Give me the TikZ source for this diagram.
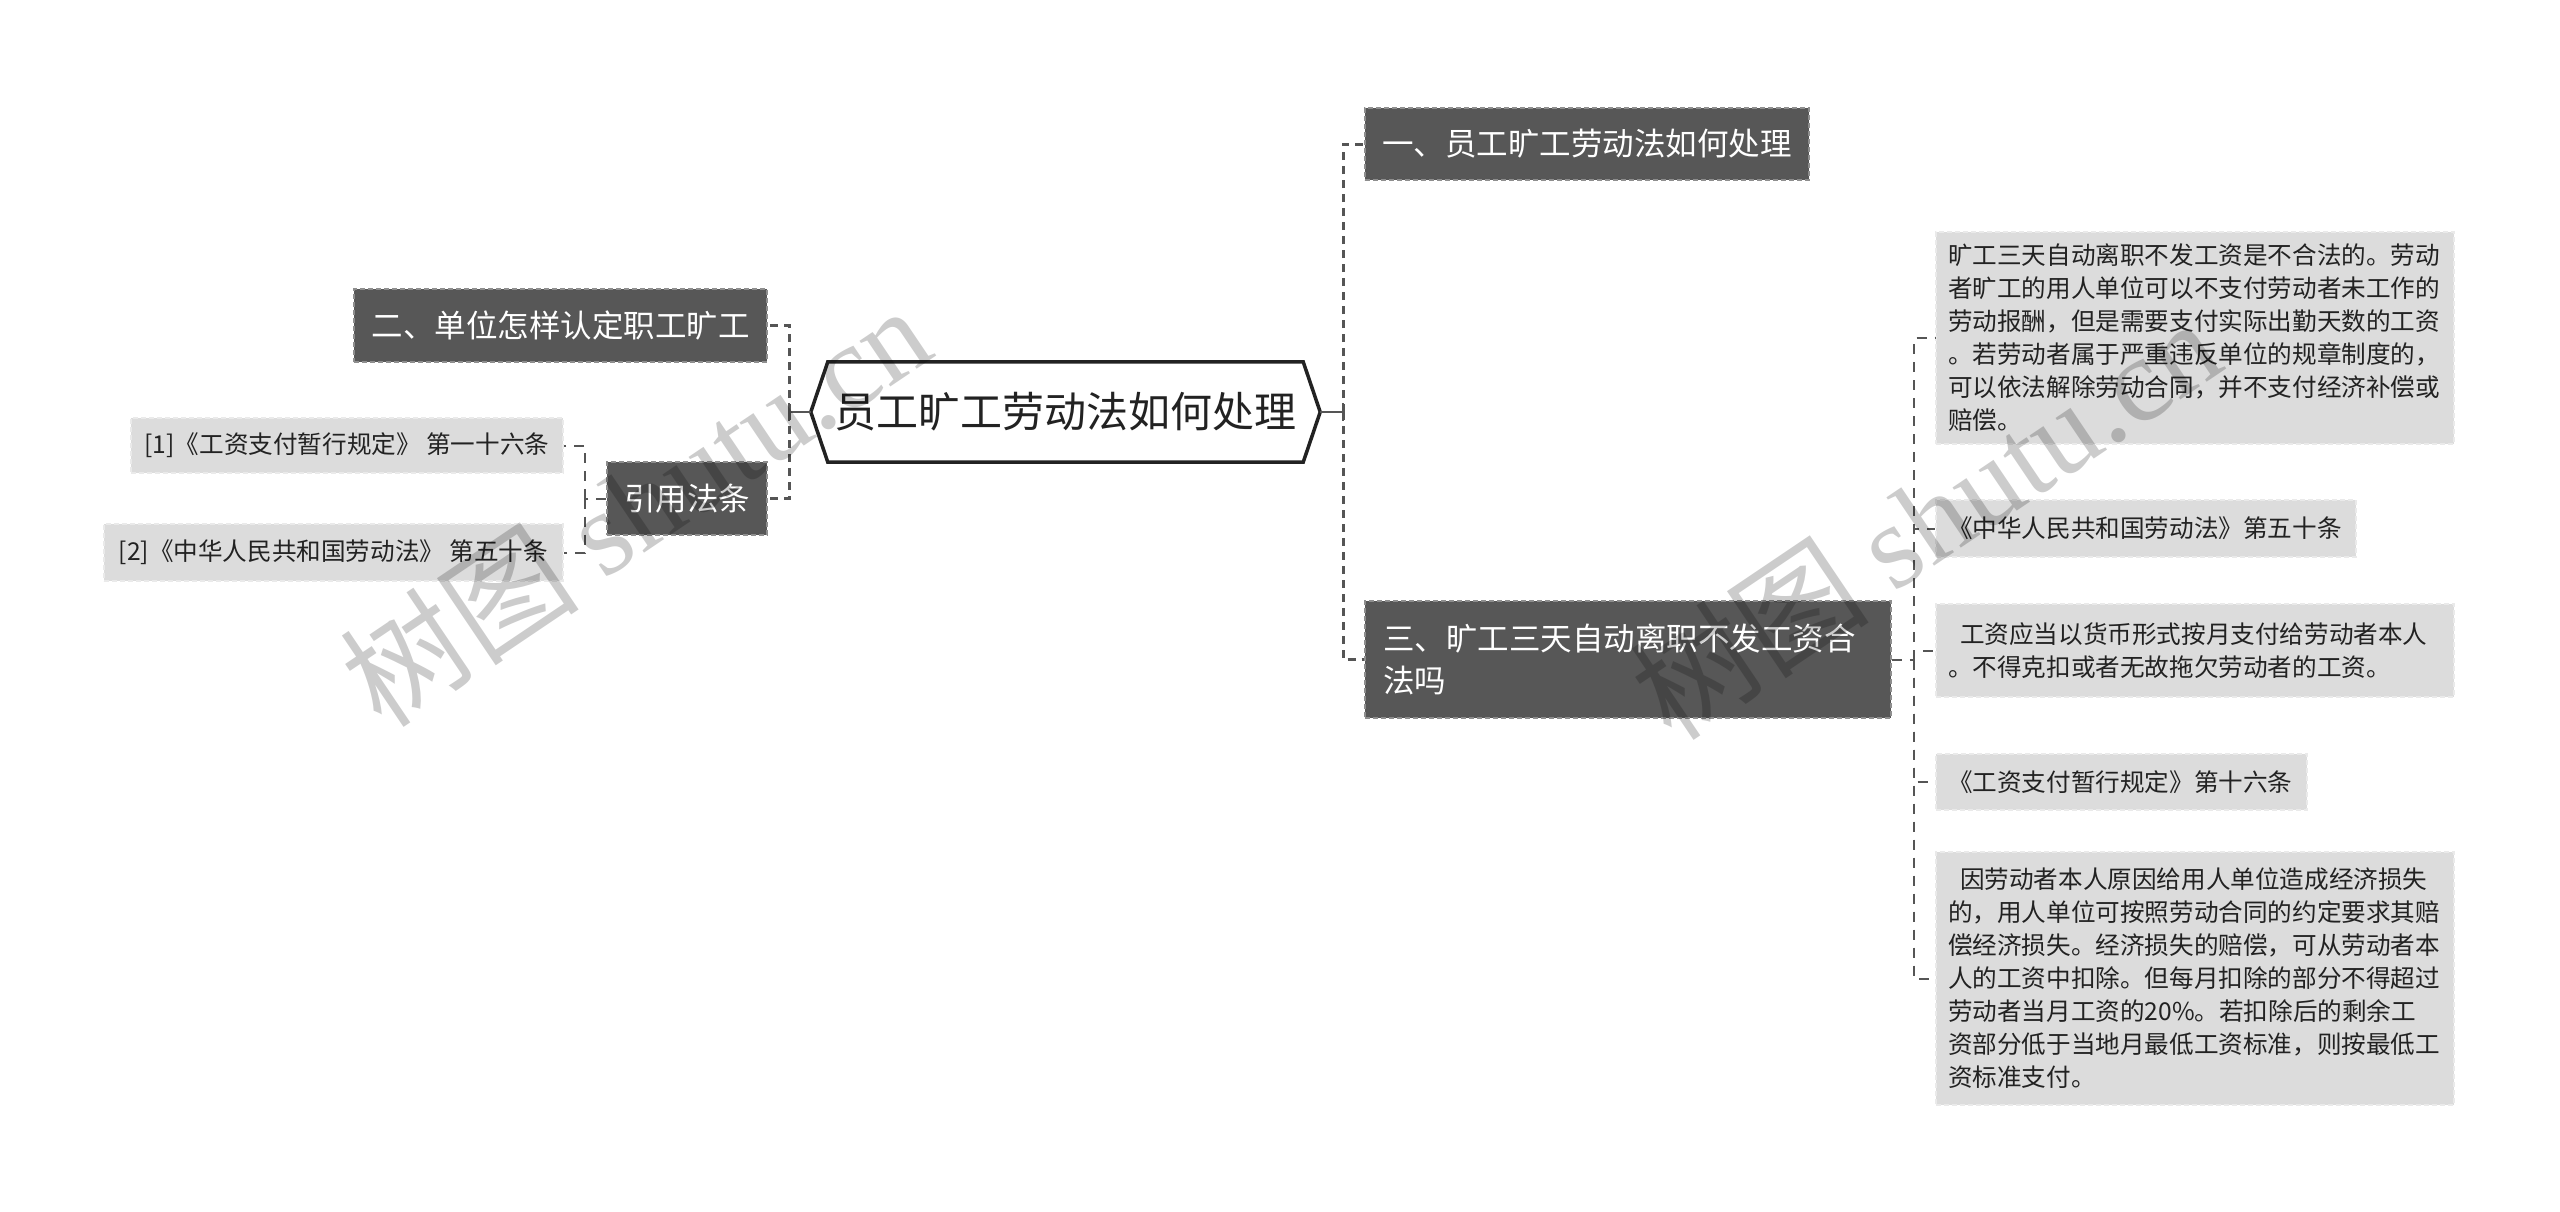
\documentclass[tikz,border=0pt]{standalone}
\usepackage{fontspec}
\setmainfont{Noto Sans CJK SC}
\newfontfamily\wmlatin{Liberation Serif}
\definecolor{darkfill}{HTML}{575757}
\definecolor{darkborder}{HTML}{8E8E8E}
\definecolor{lightfill}{HTML}{DCDCDC}
\definecolor{lightborder}{HTML}{EAEAEA}
\definecolor{linegray}{HTML}{555555}
\definecolor{ink}{HTML}{222222}
\begin{document}
\begin{tikzpicture}[x=1pt,y=-1pt,
  darkbox/.style={fill=darkfill, draw=darkborder, dash pattern=on 5pt off 3pt, line width=1.5pt,
    text=white, font=\fontsize{31.5}{42}\selectfont, inner xsep=0pt, inner ysep=0pt, align=center},
  lightbox/.style={fill=lightfill, draw=lightborder, dash pattern=on 5pt off 3pt, line width=1.5pt,
    text=ink, font=\fontsize{24.6}{33}\selectfont, inner xsep=0pt, inner ysep=0pt, align=center},
  parabox/.style={lightbox, align=left, inner xsep=12pt},
  mainlink/.style={draw=linegray, line width=3pt, dash pattern=on 8pt off 6pt},
  sublink/.style={draw=linegray, line width=2pt, dash pattern=on 10pt off 8pt},
  solidlink/.style={draw=linegray, line width=2.5pt},
  wm/.style={text=black, opacity=0.2, font=\fontsize{120}{120}\selectfont, inner sep=0pt}
]
\fill[white] (0,0) rectangle (2560,1211);
\useasboundingbox (0,0) rectangle (2560,1211);

% centre
\node[minimum width=509pt, minimum height=100pt, inner sep=0pt, text=ink,
  font=\fontsize{42}{48}\selectfont] (c) at (1065.5,412) {员工旷工劳动法如何处理};
\draw[line width=3.5pt, draw=ink, line join=miter]
  ([xshift=17pt]c.north west) -- ([xshift=-17pt]c.north east) -- (c.east)
  -- ([xshift=-17pt]c.south east) -- ([xshift=17pt]c.south west) -- (c.west) -- cycle;

% first level
\node[darkbox, minimum width=444pt, minimum height=72pt] (n1) at (1587,144) {一、员工旷工劳动法如何处理};
\node[darkbox, minimum width=413pt, minimum height=73pt] (n2) at (560.5,325.5) {二、单位怎样认定职工旷工};
\node[darkbox, minimum width=160pt, minimum height=73pt] (nref) at (687,498.5) {引用法条};
\node[darkbox, align=left, inner xsep=18pt, text width=490pt, minimum height=117pt] (n3) at (1628,659.5)
  {三、旷工三天自动离职不发工资合\\法吗};

% left leaves
\node[lightbox, minimum width=432pt, minimum height=55pt] (l1) at (347,445.5) {[1]《工资支付暂行规定》 第一十六条};
\node[lightbox, minimum width=459pt, minimum height=57pt] (l2) at (333.5,552.5) {[2]《中华人民共和国劳动法》 第五十条};

% right leaves
\node[parabox, text width=494pt, minimum height=212pt] (c1) at (2195,338)
  {旷工三天自动离职不发工资是不合法的。劳动\\者旷工的用人单位可以不支付劳动者未工作的\\劳动报酬，但是需要支付实际出勤天数的工资\\。若劳动者属于严重违反单位的规章制度的，\\可以依法解除劳动合同，并不支付经济补偿或\\赔偿。};
\node[parabox, text width=396pt, minimum height=57pt] (c2) at (2146,528.5)
  {《中华人民共和国劳动法》第五十条};
\node[parabox, text width=494pt, minimum height=93pt] (c3) at (2195,650.5)
  {\hspace*{12pt}工资应当以货币形式按月支付给劳动者本人\\。不得克扣或者无故拖欠劳动者的工资。};
\node[parabox, text width=347pt, minimum height=56pt] (c4) at (2121.5,782)
  {《工资支付暂行规定》第十六条};
\node[parabox, text width=494pt, minimum height=253pt] (c5) at (2195,978.5)
  {\hspace*{12pt}因劳动者本人原因给用人单位造成经济损失\\的，用人单位可按照劳动合同的约定要求其赔\\偿经济损失。经济损失的赔偿，可从劳动者本\\人的工资中扣除。但每月扣除的部分不得超过\\劳动者当月工资的20\%。若扣除后的剩余工\\资部分低于当地月最低工资标准，则按最低工\\资标准支付。};

% connectors: right main
\coordinate (tR) at (1343,412);
\draw[solidlink] (c.east) -- (tR);
\draw[solidlink] ([yshift=9pt]tR) -- ([yshift=-9pt]tR);
\draw[mainlink] (tR) |- (n1.west);
\draw[mainlink] (tR) |- (n3.west);

% left main
\coordinate (tL) at (789,412);
\draw[solidlink] (c.west) -- (tL);
\draw[solidlink] ([yshift=9pt]tL) -- ([yshift=-9pt]tL);
\draw[mainlink] (tL) |- (n2.east);
\draw[mainlink] (tL) |- (nref.east);

% left sub
\coordinate (tLL) at (585,498.5);
\draw[sublink] (nref.west) -- (tLL);
\draw[sublink] (tLL) |- (l1.east);
\draw[sublink] (tLL) |- (l2.east);

% right sub
\coordinate (tRR) at (1914,659.5);
\draw[sublink] (n3.east) -- (tRR);
\draw[sublink] (tRR) |- (c1.west);
\draw[sublink] (tRR) |- (c2.west);
\draw[sublink] (tRR) |- (c3.west);
\draw[sublink] (tRR) |- (c4.west);
\draw[sublink] (tRR) |- (c5.west);

% watermarks
\node[wm, rotate=34] (wm1) at (635,505) {树图 {\wmlatin shutu.cn}};
\node[wm, rotate=34] (wm2) at (1925,518) {树图 {\wmlatin shutu.cn}};
\end{tikzpicture}
\end{document}
